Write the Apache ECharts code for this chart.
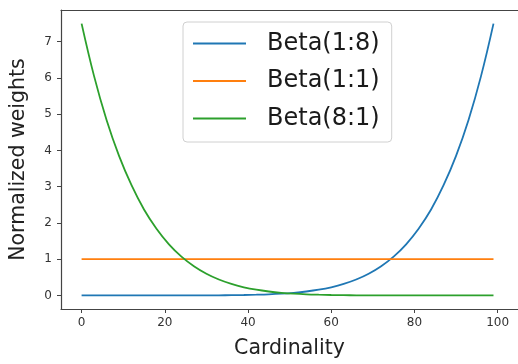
<!DOCTYPE html>
<html>
<head>
<meta charset="utf-8">
<script src="https://cdn.jsdelivr.net/npm/echarts@6/dist/echarts.min.js"></script>
<style>
  html, body { margin: 0; padding: 0; background: #fff; }
  #chart { width: 518px; height: 364px; }
</style>
</head>
<body>
<div id="chart"></div>
<script>
// Cardinality sample positions
const cardinality = [0, 3, 6, 9, 12, 15, 18, 21, 24, 27, 30, 33, 36, 39, 42, 45, 48,
  51, 54, 57, 60, 63, 66, 69, 72, 75, 78, 81, 84, 87, 90, 93, 96, 99];

// Normalized weights for each prior
const beta18 = [0, 0, 0, 0, 0, 0, 0, 0.0001, 0.0003, 0.0008, 0.0017, 0.0034, 0.006,
  0.011, 0.019, 0.030, 0.047, 0.072, 0.108, 0.157, 0.225, 0.317, 0.439, 0.599,
  0.807, 1.07, 1.41, 1.84, 2.37, 3.04, 3.85, 4.84, 6.05, 7.5];
const beta11 = [1, 1, 1, 1, 1, 1, 1, 1, 1, 1, 1, 1, 1, 1, 1, 1, 1,
  1, 1, 1, 1, 1, 1, 1, 1, 1, 1, 1, 1, 1, 1, 1, 1, 1];
const beta81 = [7.5, 6.05, 4.84, 3.85, 3.04, 2.37, 1.84, 1.41, 1.07, 0.807, 0.599,
  0.439, 0.317, 0.225, 0.157, 0.108, 0.072, 0.047, 0.030, 0.019, 0.011, 0.006,
  0.0034, 0.0017, 0.0008, 0.0003, 0.0001, 0, 0, 0, 0, 0, 0, 0];

const seriesNames = ['Beta(1:8)', 'Beta(1:1)', 'Beta(8:1)'];
const xTicks = [0, 20, 40, 60, 80, 100];
const yTicks = [0, 1, 2, 3, 4, 5, 6, 7];

const colors = ['#1f77b4', '#ff7f0e', '#2ca02c'];
const font = 'DejaVu Sans';
const spine = { color: '#444', width: 1.2 };

function pairs(values) {
  return cardinality.map((x, i) => [x, values[i]]);
}

const chart = echarts.init(document.getElementById('chart'), null, { renderer: 'canvas' });

const tickStyle = { show: true, length: 4, lineStyle: { color: '#444', width: 1 } };
const labelStyle = { color: '#333', fontSize: 12, fontFamily: font };

chart.setOption({
  animation: false,
  backgroundColor: '#fff',
  color: colors,
  grid: { left: 56, top: 10, width: 468, height: 302 },
  legend: {
    orient: 'vertical',
    left: 183, top: 22,
    data: seriesNames,
    icon: 'rect',
    itemWidth: 53, itemHeight: 2,
    itemGap: 10.5,
    padding: [8, 12, 10, 10],
    backgroundColor: 'rgba(255,255,255,0.85)',
    borderColor: '#d0d0d0', borderWidth: 1, borderRadius: 4,
    textStyle: { fontSize: 24, fontFamily: font, color: '#1a1a1a',
                 padding: [0, 0, 0, 16], lineHeight: 27 }
  },
  xAxis: [{
    type: 'value', min: -4.95, max: 104.89,
    name: 'Cardinality', nameLocation: 'middle', nameGap: 29,
    nameTextStyle: { fontSize: 20.5, fontFamily: font, color: '#222' },
    axisLine: { show: true, onZero: false, lineStyle: spine },
    splitLine: { show: false },
    axisTick: Object.assign({}, tickStyle, { customValues: xTicks }),
    axisLabel: Object.assign({}, labelStyle, { customValues: xTicks, margin: 8 })
  }, {
    // top frame line
    type: 'value', position: 'top', min: -4.95, max: 104.89,
    axisLine: { show: true, onZero: false, lineStyle: spine },
    axisTick: { show: false }, axisLabel: { show: false }, splitLine: { show: false }
  }],
  yAxis: {
    type: 'value', min: -0.375, max: 7.875,
    name: 'Normalized weights', nameLocation: 'middle', nameGap: 32,
    nameTextStyle: { fontSize: 20.5, fontFamily: font, color: '#222' },
    axisLine: { show: true, onZero: false, lineStyle: spine },
    splitLine: { show: false },
    axisTick: Object.assign({}, tickStyle, { customValues: yTicks }),
    axisLabel: Object.assign({}, labelStyle, { customValues: yTicks, margin: 9 })
  },
  series: [beta18, beta11, beta81].map((vals, i) => ({
    name: seriesNames[i],
    type: 'line',
    xAxisIndex: 0,
    data: pairs(vals),
    showSymbol: false,
    smooth: 0.4,
    lineStyle: { width: 1.8, color: colors[i] }
  }))
});
</script>
</body>
</html>
